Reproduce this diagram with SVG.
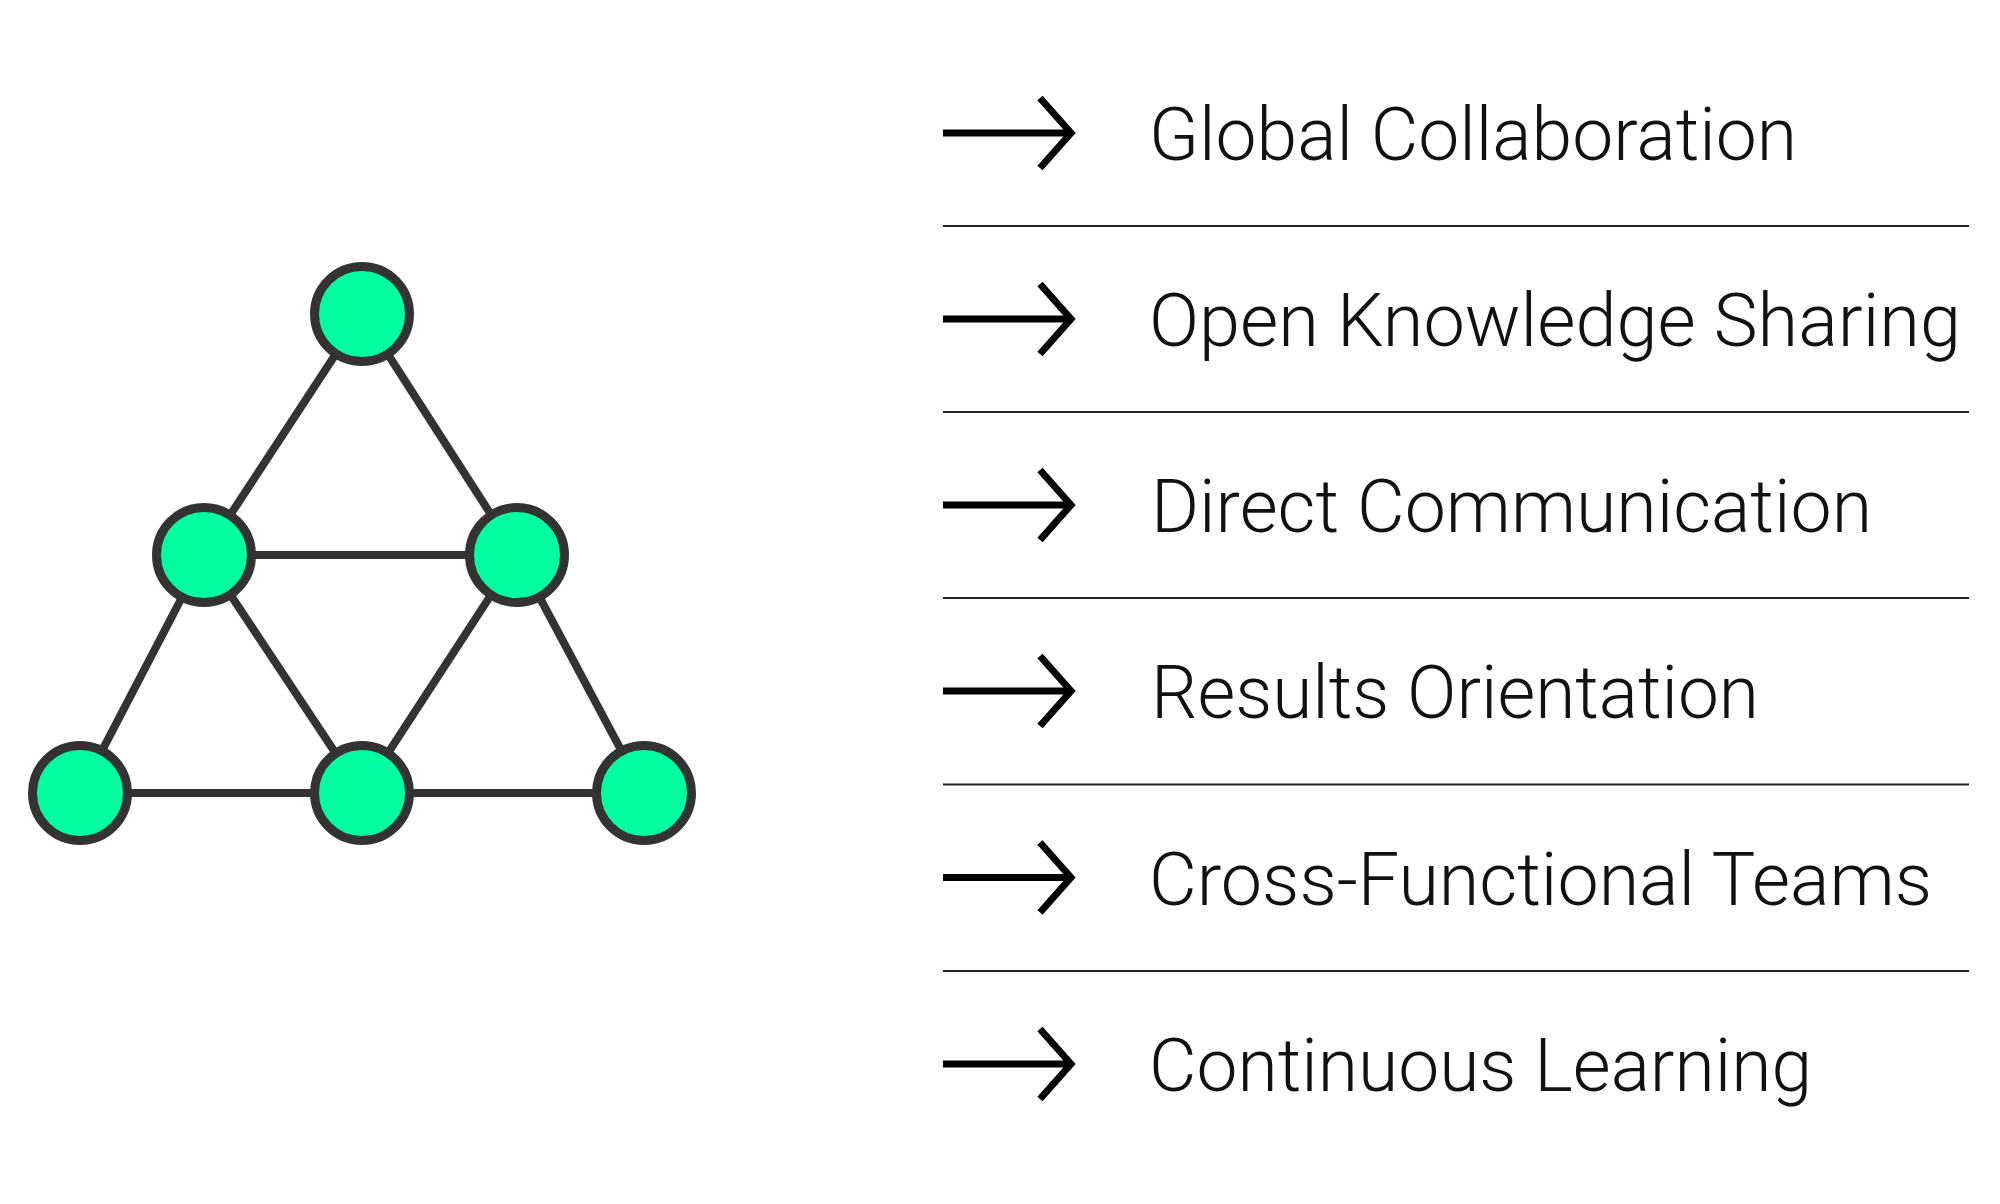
<svg xmlns="http://www.w3.org/2000/svg" width="2000" height="1204" viewBox="0 0 2000 1204">
  <defs>
    <style>
      .edge { stroke: #333333; stroke-width: 8; fill: none; }
      .node { fill: #00FFA0; stroke: #333333; stroke-width: 9; }
      .shaft { stroke: #000000; stroke-width: 7; fill: none; }
      .head { stroke: #000000; stroke-width: 7; fill: none; stroke-linejoin: miter; stroke-miterlimit: 10; }
      .divider { stroke: #222222; stroke-width: 2; }
      .label { font-family: Roboto, "Liberation Sans", sans-serif; font-weight: 300; font-size: 75px; fill: #111111; }
    </style>
  </defs>
  <rect width="2000" height="1204" fill="#ffffff"/>

  <g id="connectors">
    <line class="edge" x1="362" y1="314" x2="204" y2="555"/>
    <line class="edge" x1="362" y1="314" x2="517" y2="555"/>
    <line class="edge" x1="204" y1="555" x2="517" y2="555"/>
    <line class="edge" x1="204" y1="555" x2="80" y2="793"/>
    <line class="edge" x1="204" y1="555" x2="362" y2="793"/>
    <line class="edge" x1="517" y1="555" x2="362" y2="793"/>
    <line class="edge" x1="517" y1="555" x2="644" y2="793"/>
    <line class="edge" x1="80" y1="793" x2="362" y2="793"/>
    <line class="edge" x1="362" y1="793" x2="644" y2="793"/>
  </g>

  <g id="node-top"><circle class="node" cx="362" cy="314" r="47.5"/></g>
  <g id="node-mid-left"><circle class="node" cx="204" cy="555" r="47.5"/></g>
  <g id="node-mid-right"><circle class="node" cx="517" cy="555" r="47.5"/></g>
  <g id="node-bottom-left"><circle class="node" cx="80" cy="793" r="47.5"/></g>
  <g id="node-bottom-mid"><circle class="node" cx="362" cy="793" r="47.5"/></g>
  <g id="node-bottom-right"><circle class="node" cx="644" cy="793" r="47.5"/></g>

  <g id="item-1" transform="translate(0,133)">
    <line class="shaft" x1="943" y1="0" x2="1070" y2="0"/>
    <polyline class="head" points="1040,-35 1071,0 1040,35"/>
    <text class="label" x="1149" y="27" textLength="648" lengthAdjust="spacingAndGlyphs">Global Collaboration</text>
  </g>
  <g id="item-2" transform="translate(0,319)">
    <line class="shaft" x1="943" y1="0" x2="1070" y2="0"/>
    <polyline class="head" points="1040,-35 1071,0 1040,35"/>
    <text class="label" x="1149" y="27" textLength="812" lengthAdjust="spacingAndGlyphs">Open Knowledge Sharing</text>
  </g>
  <g id="item-3" transform="translate(0,505)">
    <line class="shaft" x1="943" y1="0" x2="1070" y2="0"/>
    <polyline class="head" points="1040,-35 1071,0 1040,35"/>
    <text class="label" x="1151" y="27" textLength="721" lengthAdjust="spacingAndGlyphs">Direct Communication</text>
  </g>
  <g id="item-4" transform="translate(0,691)">
    <line class="shaft" x1="943" y1="0" x2="1070" y2="0"/>
    <polyline class="head" points="1040,-35 1071,0 1040,35"/>
    <text class="label" x="1151" y="27" textLength="608" lengthAdjust="spacingAndGlyphs">Results Orientation</text>
  </g>
  <g id="item-5" transform="translate(0,877.5)">
    <line class="shaft" x1="943" y1="0" x2="1070" y2="0"/>
    <polyline class="head" points="1040,-35 1071,0 1040,35"/>
    <text class="label" x="1149" y="27" textLength="783" lengthAdjust="spacingAndGlyphs">Cross-Functional Teams</text>
  </g>
  <g id="item-6" transform="translate(0,1064)">
    <line class="shaft" x1="943" y1="0" x2="1070" y2="0"/>
    <polyline class="head" points="1040,-35 1071,0 1040,35"/>
    <text class="label" x="1149" y="27" textLength="663" lengthAdjust="spacingAndGlyphs">Continuous Learning</text>
  </g>

  <g id="dividers">
    <line class="divider" x1="943" y1="226" x2="1969" y2="226"/>
    <line class="divider" x1="943" y1="412" x2="1969" y2="412"/>
    <line class="divider" x1="943" y1="598" x2="1969" y2="598"/>
    <line class="divider" x1="943" y1="784.5" x2="1969" y2="784.5"/>
    <line class="divider" x1="943" y1="971" x2="1969" y2="971"/>
  </g>
</svg>
